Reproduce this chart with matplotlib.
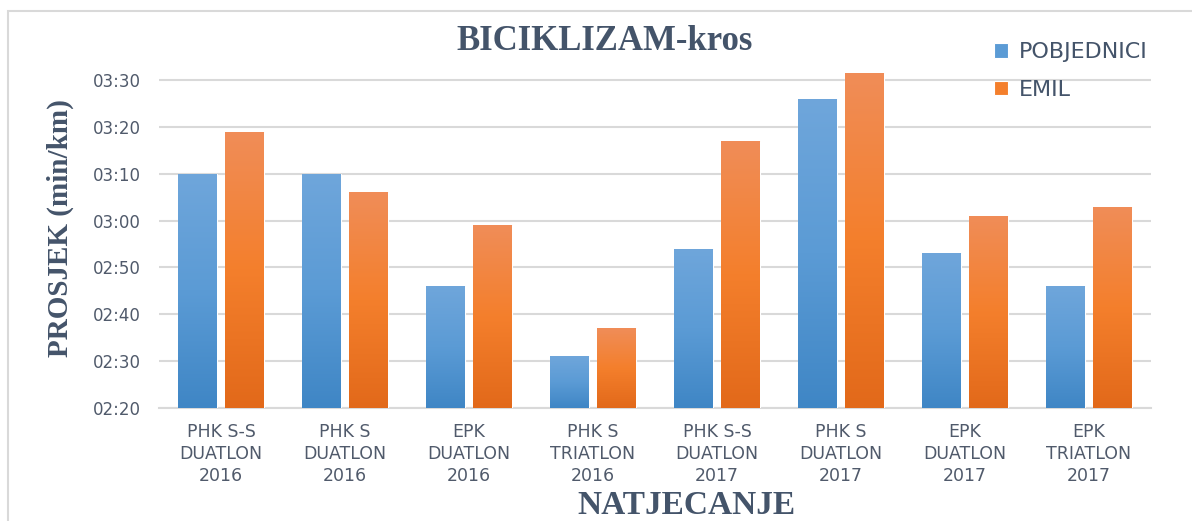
import numpy as np
import matplotlib
matplotlib.use("Agg")
import matplotlib.pyplot as plt
from matplotlib.patches import Rectangle
from matplotlib.colors import LinearSegmentedColormap
from matplotlib.ticker import FuncFormatter

# ---- data (seconds per km) ----
categories = ["PHK S-S\nDUATLON\n2016", "PHK S\nDUATLON\n2016", "EPK\nDUATLON\n2016",
              "PHK S\nTRIATLON\n2016", "PHK S-S\nDUATLON\n2017", "PHK S\nDUATLON\n2017",
              "EPK\nDUATLON\n2017", "EPK\nTRIATLON\n2017"]
pobjednici = [190, 190, 166, 151, 174, 206, 173, 166]
emil = [199, 186, 179, 157, 197, 211.5, 181, 183]
series_names = ["POBJEDNICI", "EMIL"]
yticks = [140, 150, 160, 170, 180, 190, 200, 210]

title = "BICIKLIZAM-kros"
ylabel = "PROSJEK (min/km)"
xlabel = "NATJECANJE"

TEXT = "#44546A"
TICK = "#505A6B"
GRID = "#D9D9D9"
blue_grad = ["#3F86C5", "#5B9BD5", "#6FA6DB"]
orange_grad = ["#E2691A", "#F47F2C", "#F08D58"]

fig = plt.figure(figsize=(11.92, 5.21), dpi=100)
ax = fig.add_axes([159/1192, 1-408/521, (1151-159)/1192, (408-65)/521])

x = np.arange(len(categories))
w = 0.31
off = 0.19
ymin, ymax = 140, 213.2

def grad_bars(xs, vals, colors, label):
    bars = ax.bar(xs, [v - ymin for v in vals], width=w, bottom=ymin,
                  color=colors[1], edgecolor="white", linewidth=0.8, label=label, zorder=2)
    cmap = LinearSegmentedColormap.from_list("g", colors)
    grad = np.linspace(0, 1, 256).reshape(-1, 1)
    for b in bars:
        x0, y0 = b.get_x(), b.get_y()
        x1, y1 = x0 + b.get_width(), y0 + b.get_height()
        im = ax.imshow(grad, cmap=cmap, origin="lower", aspect="auto",
                       extent=[x0, x1, y0, y1], zorder=2.5)
        im.set_clip_path(b)
    return bars

grad_bars(x - off, pobjednici, blue_grad, series_names[0])
grad_bars(x + off, emil, orange_grad, series_names[1])

ax.set_xlim(-0.5, len(categories) - 0.5)
ax.set_ylim(ymin, ymax)
ax.set_yticks(yticks)
ax.yaxis.set_major_formatter(FuncFormatter(lambda v, p: f"{int(v)//60:02d}:{int(v)%60:02d}"))
ax.set_xticks(x)
ax.set_xticklabels(categories, linespacing=1.27)
ax.tick_params(axis="y", length=0, pad=13, labelsize=12, labelcolor=TICK)
ax.tick_params(axis="x", length=0, pad=11, labelsize=12.5, labelcolor=TICK)
for lab in ax.get_yticklabels() + ax.get_xticklabels():
    lab.set_fontfamily("DejaVu Sans")
ax.grid(axis="y", color=GRID, linewidth=1.5, zorder=0)
ax.set_axisbelow(True)
for s in ["top", "right", "left"]:
    ax.spines[s].set_visible(False)
ax.spines["bottom"].set_color(GRID)
ax.spines["bottom"].set_linewidth(1.5)
ax.spines["bottom"].set_zorder(1)

fig.text(605/1192, 1-42/521, title, ha="center", va="center", fontsize=25,
         fontweight="bold", family="Liberation Serif", color=TEXT)
fig.text(60/1192, 1-228/521, ylabel, ha="center", va="center", rotation=90,
         fontsize=21, fontweight="bold", family="Liberation Serif", color=TEXT)
fig.text(686/1192, 0.5/521, xlabel, ha="center", va="bottom", fontsize=24,
         fontweight="bold", family="Liberation Serif", color=TEXT)

handles, labels = ax.get_legend_handles_labels()
leg = fig.legend(handles, labels, loc="upper left", bbox_to_anchor=(994/1192, 1-42/521),
                 frameon=False, fontsize=16, handlelength=0.65, handleheight=0.65,
                 handletextpad=0.45, labelspacing=0.8, borderpad=0, borderaxespad=0)
for t in leg.get_texts():
    t.set_color(TEXT)
    t.set_fontfamily("DejaVu Sans")

top = 1 - 11/521
fig.patches.append(Rectangle((8/1192, -0.2), 1.2, top + 0.2, transform=fig.transFigure,
                             fill=False, edgecolor=GRID, linewidth=1.5, zorder=0))

fig.savefig("out.png", dpi=100)
